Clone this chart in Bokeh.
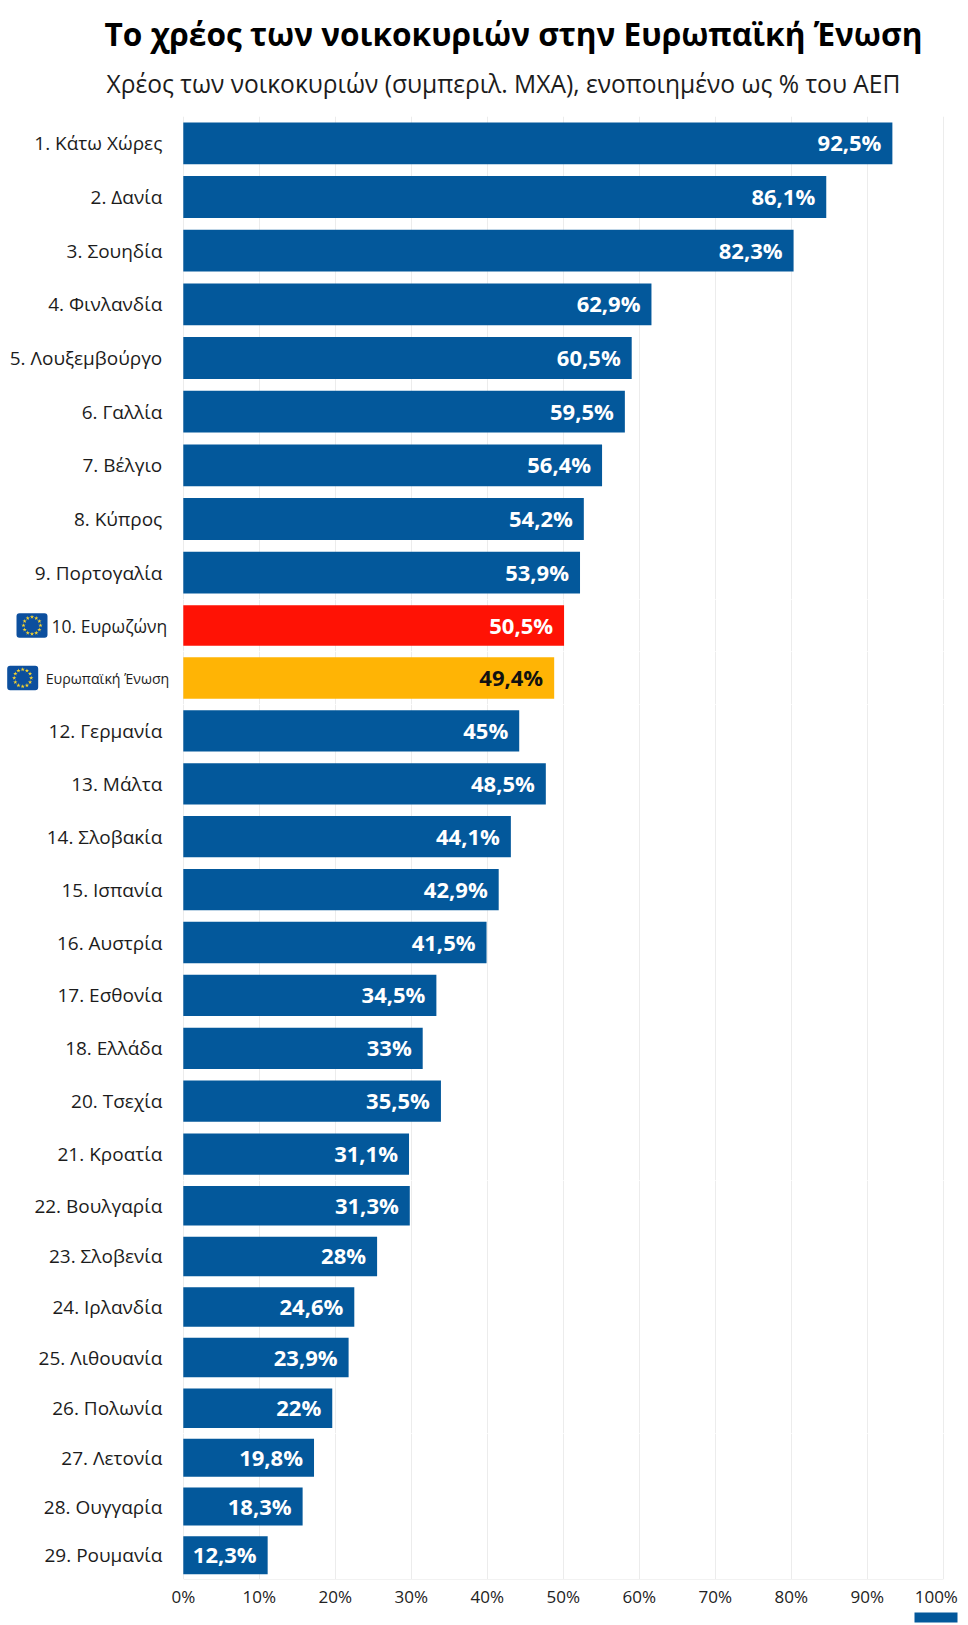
import math
from bokeh.core.properties import value
from bokeh.embed import file_html
from bokeh.layouts import column
from bokeh.models import ColumnDataSource, FactorRange, FixedTicker, Range1d
from bokeh.plotting import figure
from bokeh.resources import INLINE

TITLE = "Το χρέος των νοικοκυριών στην Ευρωπαϊκή Ένωση"
SUBTITLE = "Χρέος των νοικοκυριών (συμπεριλ. ΜΧΑ), ενοποιημένο ως % του ΑΕΠ"

categories = ["1. Κάτω Χώρες", "2. Δανία", "3. Σουηδία", "4. Φινλανδία", "5. Λουξεμβούργο",
              "6. Γαλλία", "7. Βέλγιο", "8. Κύπρος", "9. Πορτογαλία", "10. Ευρωζώνη",
              "Ευρωπαϊκή Ένωση", "12. Γερμανία", "13. Μάλτα", "14. Σλοβακία", "15. Ισπανία",
              "16. Αυστρία", "17. Εσθονία", "18. Ελλάδα", "20. Τσεχία", "21. Κροατία",
              "22. Βουλγαρία", "23. Σλοβενία", "24. Ιρλανδία", "25. Λιθουανία", "26. Πολωνία",
              "27. Λετονία", "28. Ουγγαρία", "29. Ρουμανία"]
# bar lengths as drawn against the axis; the printed labels differ slightly in the original
bar_lengths = [93.3, 84.6, 80.3, 61.6, 59.0, 58.1, 55.1, 52.7, 52.2, 50.1, 48.8, 44.2, 47.7, 43.1,
               41.5, 39.9, 33.3, 31.5, 33.9, 29.7, 29.8, 25.5, 22.5, 21.75, 19.6, 17.2, 15.7, 11.1]
value_labels = ["92,5%", "86,1%", "82,3%", "62,9%", "60,5%", "59,5%", "56,4%", "54,2%", "53,9%",
                "50,5%", "49,4%", "45%", "48,5%", "44,1%", "42,9%", "41,5%", "34,5%", "33%",
                "35,5%", "31,1%", "31,3%", "28%", "24,6%", "23,9%", "22%", "19,8%", "18,3%", "12,3%"]
tick_values = [0, 10, 20, 30, 40, 50, 60, 70, 80, 90, 100]
tick_labels = ["0%", "10%", "20%", "30%", "40%", "50%", "60%", "70%", "80%", "90%", "100%"]

BLUE, RED, AMBER = "#03589b", "#ff1205", "#ffb405"
bar_colors = [RED if c == "10. Ευρωζώνη" else AMBER if c == "Ευρωπαϊκή Ένωση" else BLUE for c in categories]
text_colors = ["#111111" if c == AMBER else "white" for c in bar_colors]

FONT = "Open Sans"
PAGE_W = 968
PAGE_H = 1625
PX_PER_UNIT = 7.6
X0 = 182.8  # page x of 0%
x_range = Range1d((0 - X0) / PX_PER_UNIT, (PAGE_W - X0) / PX_PER_UNIT)


def page_x(px):
    return (px - X0) / PX_PER_UNIT


# the original's row pitch tightens down the page, so rows are split in bands of equal pitch;
# the two EU rows get their own bands because their axis labels are set differently
band_rows = [9, 1, 1, 9, 5, 3]
band_edges = [116, 599, 651, 704, 1180, 1433, 1579]
band_label_size = ["19px", "17.5px", "14.2px", "19px", "19px", "19px"]
band_standoff = [21, 16, 14, 21, 21, 21]


def base_fig(height, y_range):
    f = figure(width=PAGE_W, height=height, x_range=x_range, y_range=y_range, output_backend="svg",
               toolbar_location=None, min_border_left=0, min_border_right=0, min_border_top=0, min_border_bottom=0)
    f.outline_line_color = None
    f.ygrid.visible = False
    return f


header = base_fig(band_edges[0], Range1d(0, band_edges[0]))
header.xaxis.visible = False
header.yaxis.visible = False
header.xgrid.visible = False
header.text(x=[page_x(513)], y=[band_edges[0] - 33], text=[TITLE], text_align="center", text_baseline="middle",
            text_font=value(FONT), text_font_style="bold", text_font_size="31.6px", text_color="#000000")
header.text(x=[page_x(503)], y=[band_edges[0] - 83], text=[SUBTITLE], text_align="center", text_baseline="middle",
            text_font=value(FONT), text_font_size="24.6px", text_color="#1c1c1c")

bands = []
start = 0
for b, n in enumerate(band_rows):
    rows = categories[start:start + n]
    p = base_fig(band_edges[b + 1] - band_edges[b],
                 FactorRange(factors=rows[::-1], factor_padding=0, range_padding=0))
    src = ColumnDataSource(dict(y=rows, v=bar_lengths[start:start + n], t=value_labels[start:start + n],
                                c=bar_colors[start:start + n], tc=text_colors[start:start + n]))
    p.hbar(y="y", left=0, right="v", height=0.78, fill_color="c", line_color=None, source=src)
    p.text(x="v", y="y", text="t", source=src, text_color="tc", text_align="right", text_baseline="middle",
           x_offset=-11, y_offset=-1, text_font=value(FONT), text_font_style="bold", text_font_size="22px")
    p.xgrid.ticker = FixedTicker(ticks=tick_values)
    p.xgrid.grid_line_color = "#ececec"
    p.xaxis.visible = False
    ya = p.yaxis[0]
    ya.fixed_location = 0
    ya.axis_line_color = None
    ya.major_tick_line_color = None
    ya.minor_tick_line_color = None
    ya.major_tick_out = 0
    ya.major_label_standoff = band_standoff[b]
    ya.major_label_text_font = FONT
    ya.major_label_text_font_size = band_label_size[b]
    ya.major_label_text_color = "#1c1c1c"
    bands.append(p)
    start += n


def eu_flag(p, row, cx):
    p.rect(x=[page_x(cx)], y=[row], width=31, height=24.4, width_units="screen", height_units="screen",
           fill_color="#0c4f9e", line_color=None, border_radius=3)
    pitch = p.height
    xs = [page_x(cx + 8.5 * math.cos(k * math.pi / 6)) for k in range(12)]
    ys = [(row, 8.5 * math.sin(k * math.pi / 6) / pitch) for k in range(12)]
    p.scatter(x=xs, y=ys, marker="star", size=4.5, fill_color="#f6d32d", line_color=None)


eu_flag(bands[1], "10. Ευρωζώνη", 31.5)
eu_flag(bands[2], "Ευρωπαϊκή Ένωση", 22.2)

footer_h = PAGE_H - band_edges[-1]
footer = base_fig(footer_h, Range1d(0, footer_h))
footer.xgrid.visible = False
footer.yaxis.visible = False
xa = footer.xaxis[0]
xa.fixed_location = footer_h
xa.bounds = (0, 100)
xa.ticker = FixedTicker(ticks=tick_values)
xa.major_label_overrides = {v: (t if v != 100 else "") for v, t in zip(tick_values, tick_labels)}
xa.axis_line_color = "#e6e6e6"
xa.major_tick_line_color = None
xa.minor_tick_line_color = None
xa.major_tick_out = 0
xa.major_label_standoff = 5
xa.major_label_text_font = FONT
xa.major_label_text_font_size = "17px"
xa.major_label_text_color = "#222222"
footer.text(x=[tick_values[-1]], y=[PAGE_H - 1596], text=[tick_labels[-1]], x_offset=-7, text_align="center",
            text_baseline="middle", text_font=value(FONT), text_font_size="17px", text_color="#222222")
footer.quad(left=[page_x(914)], right=[page_x(957)], bottom=[PAGE_H - 1622], top=[PAGE_H - 1612],
            fill_color=BLUE, line_color=None)

open("out.html", "w").write(file_html(column(header, *bands, footer, spacing=0), INLINE))
